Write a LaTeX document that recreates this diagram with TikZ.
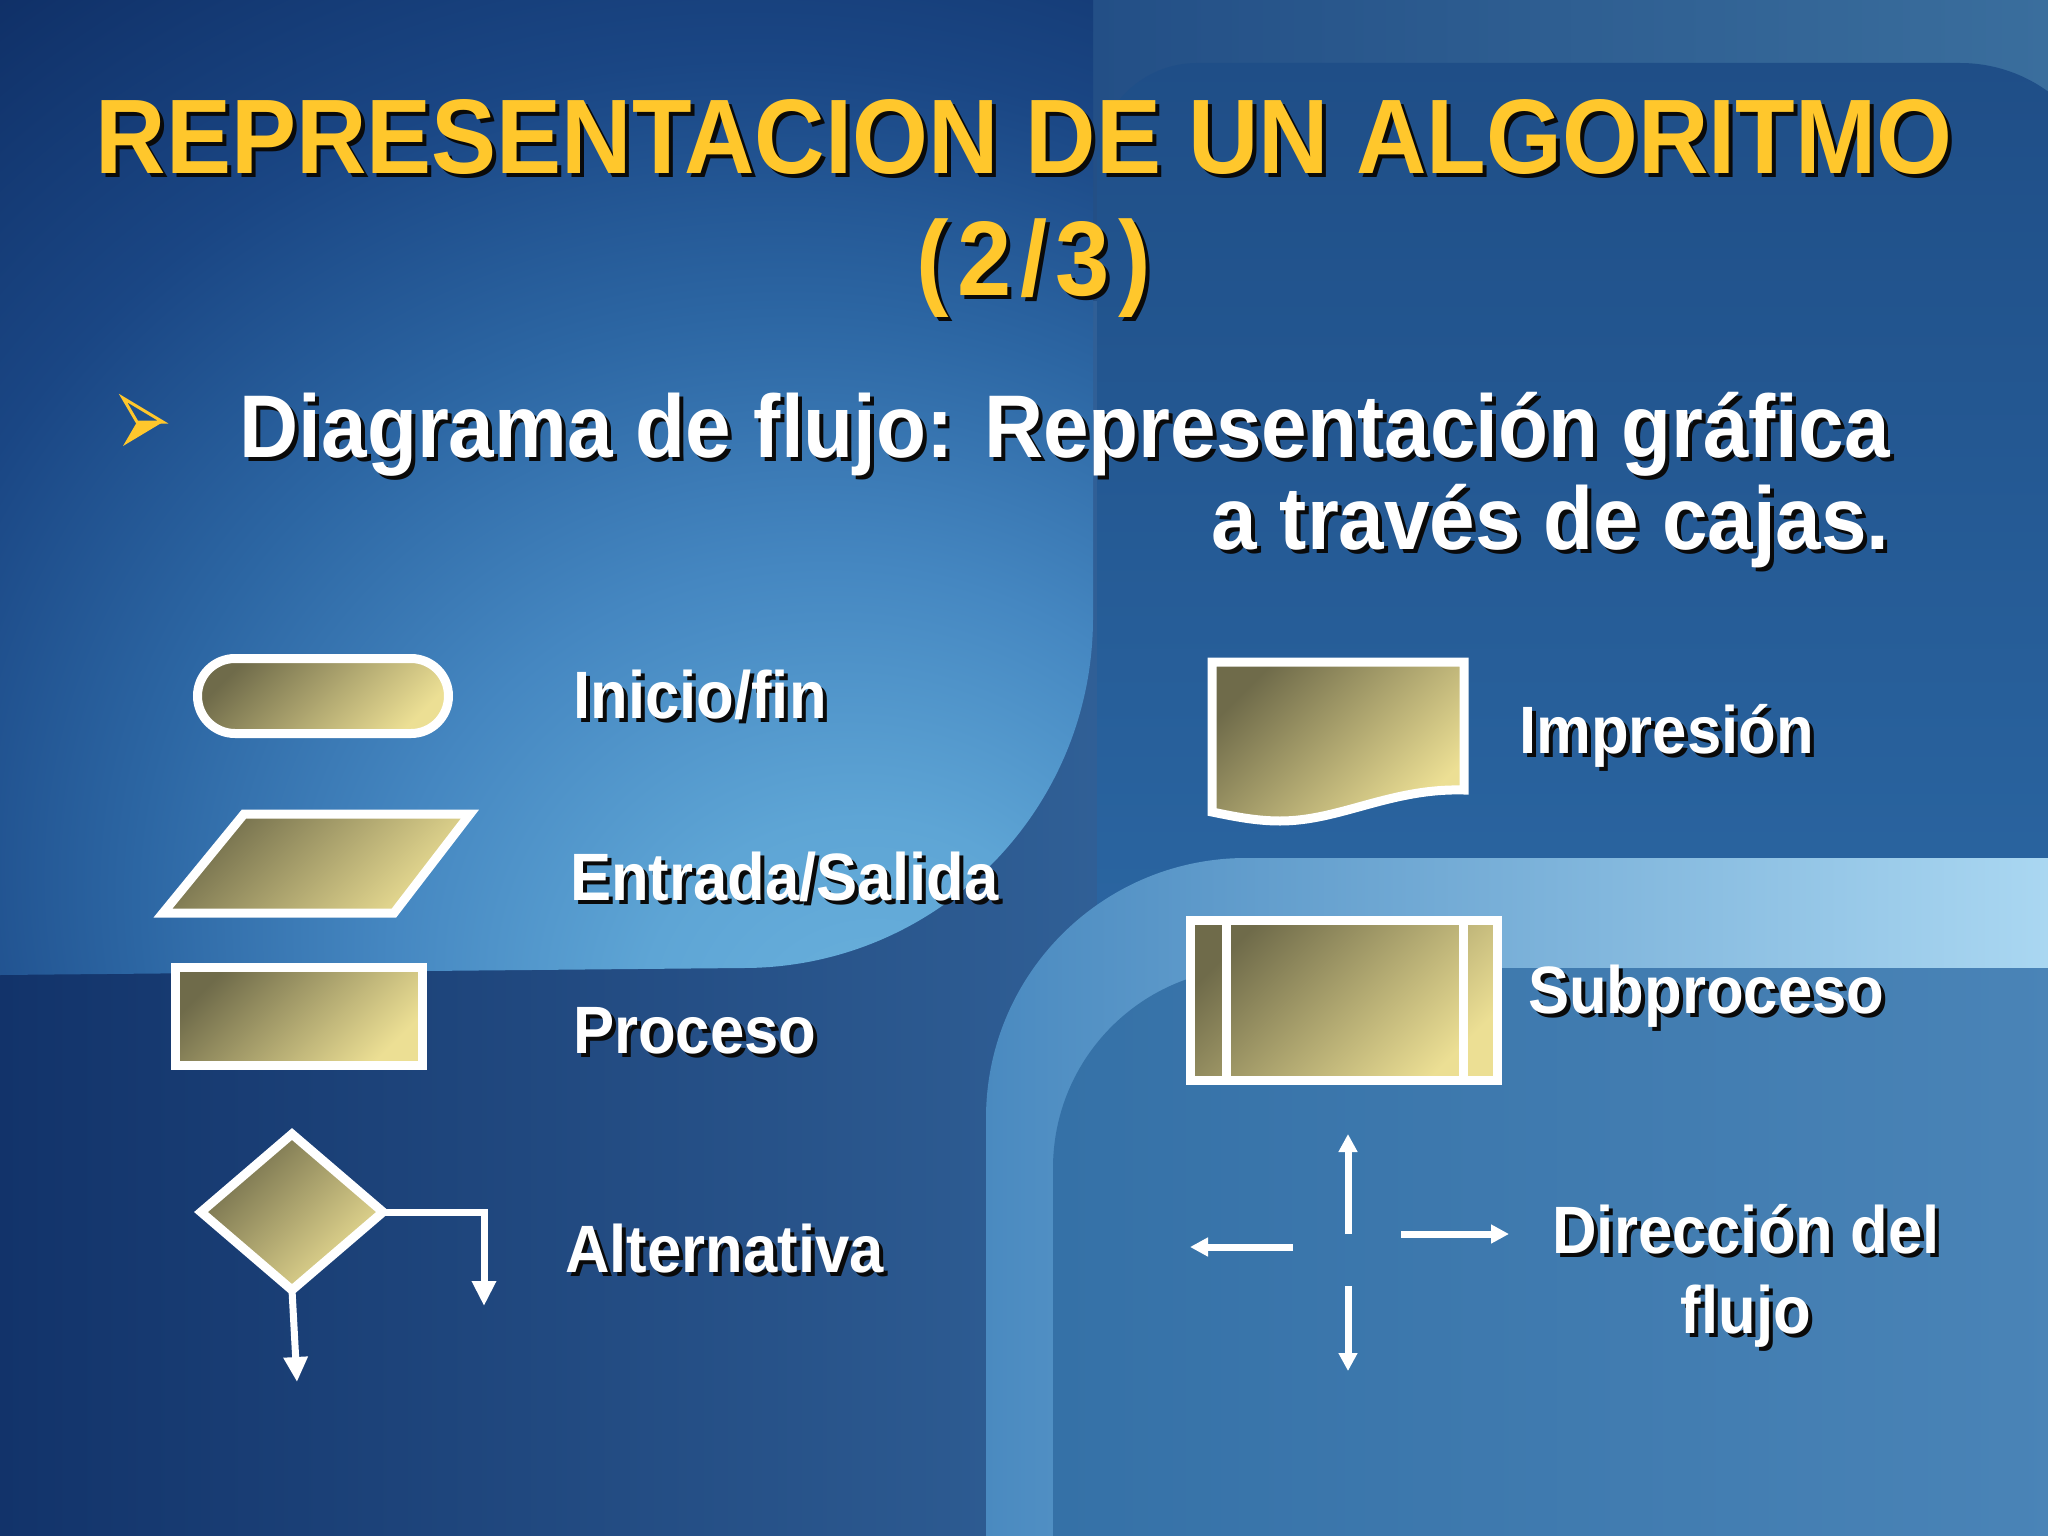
\documentclass[tikz,border=0pt]{standalone}
\usepackage{fontspec}
\newfontfamily\lsb[FakeStretch=0.92]{Liberation Sans}
\usetikzlibrary{shapes.misc,shapes.geometric,arrows.meta}

\definecolor{ttl}{HTML}{FFC72C}
\definecolor{shadowc}{HTML}{0A0A0A}
\definecolor{shd}{HTML}{6F6B4A}
\definecolor{shl}{HTML}{ECDF94}
\definecolor{bgL}{HTML}{12336A}
\definecolor{bgR}{HTML}{4A86BC}
\definecolor{g0}{HTML}{6CB3DE}
\definecolor{g1}{HTML}{5EA5D5}
\definecolor{g2}{HTML}{4587C1}
\definecolor{g3}{HTML}{2C66A3}
\definecolor{g4}{HTML}{1A4684}
\definecolor{g5}{HTML}{0F2F66}
\definecolor{g6}{HTML}{0B2656}
\definecolor{stripL}{HTML}{234F86}
\definecolor{stripR}{HTML}{3A6E9D}
\definecolor{panT}{HTML}{1F4E87}
\definecolor{panB}{HTML}{2B67A3}
\definecolor{bandL}{HTML}{4A8AC0}
\definecolor{bandR}{HTML}{ABD8F2}
\definecolor{brL}{HTML}{3571A7}
\definecolor{brR}{HTML}{4A84B7}

\pgfdeclareradialshading{leftglow}{\pgfpoint{16bp}{-30bp}}{color(0bp)=(g0); color(10bp)=(g1); color(20bp)=(g2); color(30bp)=(g3); color(40bp)=(g4); color(52bp)=(g5); color(70bp)=(g6); color(100bp)=(g6)}

\newcommand{\shtext}[1]{\rlap{\kern4pt\raisebox{-4pt}{\color{shadowc}#1}}#1}

\tikzset{
  shp/.style={draw=white, line width=9, top color=shd, bottom color=shl, shading angle=45, inner sep=0, outer sep=0},
  conn/.style={draw=white, line width=7, -{Triangle[length=25,width=23]}},
  flow/.style={draw=white, line width=7, -{Triangle[length=18,width=18]}},
  lbl/.style={text=white, font=\lsb\bfseries\fontsize{67}{78}\selectfont, inner sep=0, anchor=base west},
  lblc/.style={text=white, font=\lsb\bfseries\fontsize{67}{78}\selectfont, inner sep=0, anchor=base},
  ttlstyle/.style={text=ttl, font=\lsb\bfseries\fontsize{106}{120}\selectfont, inner sep=0, anchor=base},
  subt/.style={text=white, font=\lsb\bfseries\fontsize{89}{100}\selectfont, inner sep=0, anchor=base east},
}

\begin{document}
\begin{tikzpicture}[x=1pt,y=-1pt]
\useasboundingbox (0,0) rectangle (2048,1536);
\begin{scope}
\clip (0,0) rectangle (2048,1536);
% base
\shade[left color=bgL, right color=bgR] (0,0) rectangle (2048,1536);
% top strip on the right
\shade[left color=stripL, right color=stripR] (1093,0) rectangle (2048,300);
% upper right panel
\shade[top color=panT, bottom color=panB] (1097,1000) -- (1097,163) arc[start angle=180, end angle=270, radius=100] -- (1960,63) arc[start angle=270, end angle=360, radius=150] -- (2110,1000) -- cycle;
% left glowing panel
\shade[shading=leftglow] (0,0) -- (1093,0) -- (1093,618) arc[start angle=0, end angle=90, radius=350] -- (0,975) -- cycle;
% light band
\shade[left color=bandL, right color=bandR] (986,1540) -- (986,1118) arc[start angle=180, end angle=270, radius=260] -- (2060,858) -- (2060,1540) -- cycle;
% bottom right panel
\shade[left color=brL, right color=brR] (1053,1540) -- (1053,1168) arc[start angle=180, end angle=270, radius=200] -- (2060,968) -- (2060,1540) -- cycle;
\end{scope}

% title
\node[ttlstyle] (title1) at (1024,174) {\shtext{REPRESENTACION DE UN ALGORITMO}};
\node[ttlstyle] (title2) at (1034,295) {\addfontfeature{LetterSpace=8}\shtext{(2/3)}};

% bullet
\draw[ttl, line width=3, line join=miter] (123,398) -- (163,422) -- (137,422) -- cycle;
\fill[ttl] (137,422) -- (163,422) -- (123,446) -- cycle;

% subtitle
\node[subt] (sub1) at (1890,457) {\shtext{Diagrama de flujo: Representación gráfica}};
\node[subt] (sub2) at (1890,549) {\shtext{a través de cajas.}};

% shapes left
\node[shp, rounded rectangle, minimum width=251, minimum height=75] (term) at (323,696) {};
\path[shp] (244,814) -- (470,814) -- (394,913) -- (163,913) -- cycle;
\node[shp, rectangle, minimum width=247, minimum height=98] (proc) at (299,1016) {};
\node[shp, diamond, minimum width=182, minimum height=156] (alt) at (292,1212) {};

\coordinate (altR) at (484,1212);
\coordinate (altRend) at (484,1306);
\coordinate (altBend) at (297,1382);
\draw[conn] (alt.east) -- (altR) -- (altRend);
\draw[conn] (alt.south) -- (altBend);

% shapes right
\path[shp] (1212,662) -- (1464,662) -- (1464,790) .. controls (1390,788) and (1340,821) .. (1280,821) .. controls (1255,821) and (1232,816) .. (1212,812) -- cycle;
\node[shp, rectangle, minimum width=307, minimum height=160] (subp) at (1344,1000) {};
\draw[white, line width=9] (subp.north west) ++(35.5,0) -- ++(0,160);
\draw[white, line width=9] (subp.north east) ++(-34.5,0) -- ++(0,160);

% flow arrows
\coordinate (upS) at (1348,1234); \coordinate (upE) at (1348,1134);
\coordinate (dnS) at (1348,1286); \coordinate (dnE) at (1348,1371);
\coordinate (lfS) at (1293,1247); \coordinate (lfE) at (1190,1247);
\coordinate (rtS) at (1401,1234); \coordinate (rtE) at (1509,1234);
\draw[flow] (upS) -- (upE);
\draw[flow] (dnS) -- (dnE);
\draw[flow] (lfS) -- (lfE);
\draw[flow] (rtS) -- (rtE);

% labels
\node[lbl] (l1) at (573,718) {\shtext{Inicio/fin}};
\node[lbl] (l2) at (570,900) {\shtext{Entrada/Salida}};
\node[lbl] (l3) at (573,1053) {\shtext{Proceso}};
\node[lbl] (l4) at (565,1272) {\shtext{Alternativa}};
\node[lbl] (l5) at (1519,753) {\shtext{Impresión}};
\node[lbl] (l6) at (1528,1013) {\shtext{Subproceso}};
\node[lblc] (l7) at (1746,1253) {\shtext{Dirección del}};
\node[lblc] (l8) at (1746,1333) {\shtext{flujo}};
\end{tikzpicture}
\end{document}
